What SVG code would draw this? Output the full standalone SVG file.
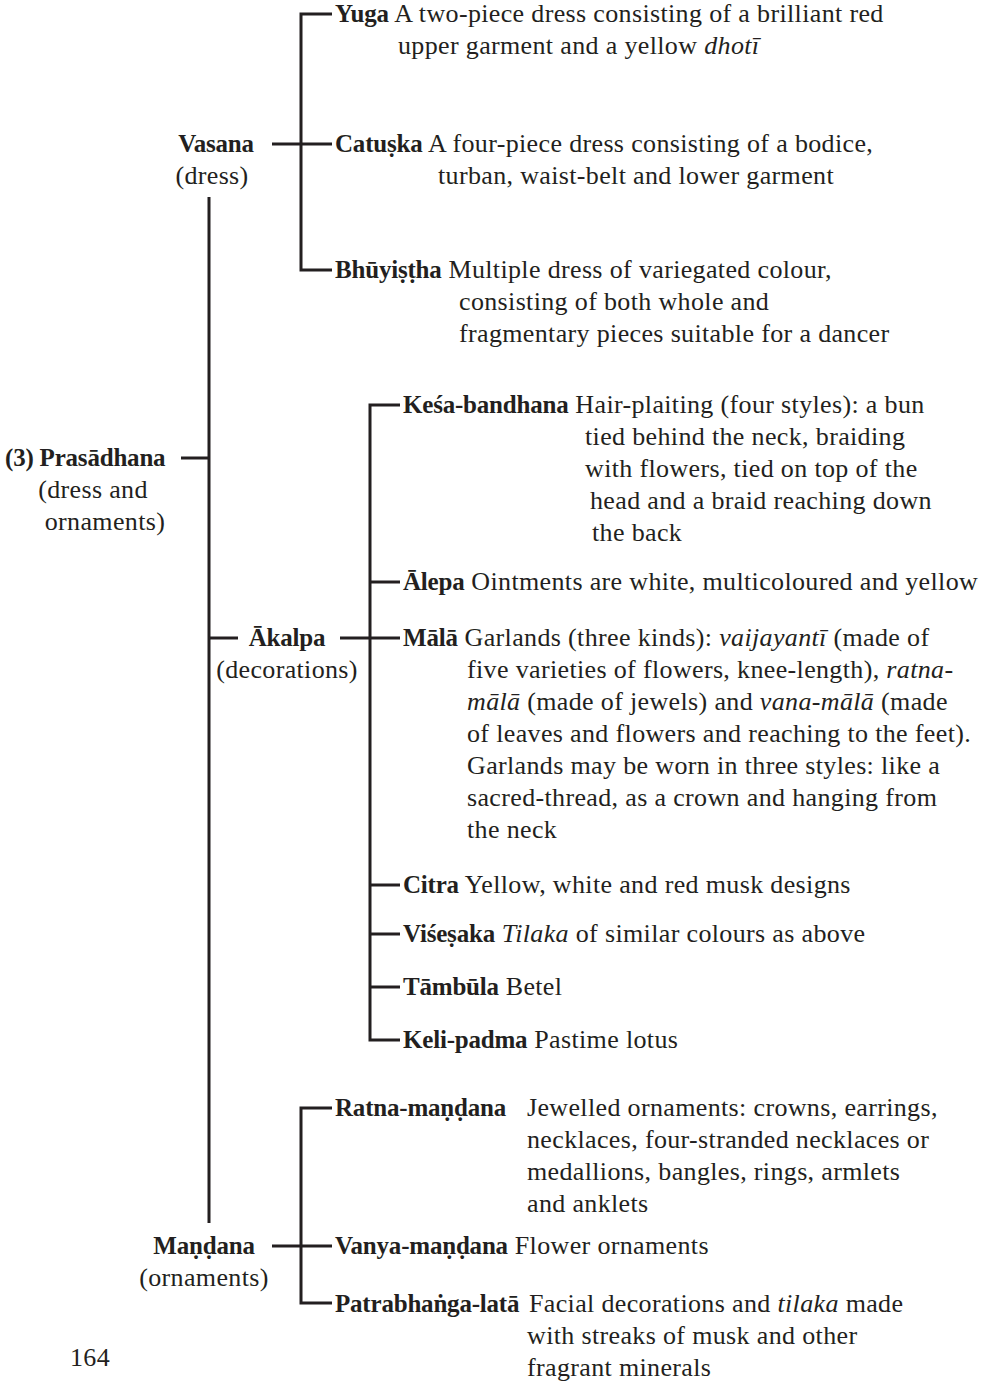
<svg xmlns="http://www.w3.org/2000/svg" width="1002" height="1382" viewBox="0 0 1002 1382">
  <style>
    text { font-family: "Liberation Serif", "DejaVu Serif", serif; font-size: 26px; letter-spacing: 0.35px; fill: #231f20; }
    .b { font-weight: bold; font-size: 25px; letter-spacing: -0.2px; }
    .i { font-style: italic; }
    .mid { text-anchor: middle; }
    .wire { stroke: #231f20; stroke-width: 3; fill: none; }
  </style>
  <rect width="1002" height="1382" fill="#ffffff"/>

  <!-- connectors -->
  <g id="connectors" class="wire">
    <!-- main trunk -->
    <path d="M209,197 V1223"/>
    <path d="M181,458 H209"/>
    <path d="M209,638 H238"/>
    <!-- Vasana bracket -->
    <path d="M272,144 H332"/>
    <path d="M332,14 H301 V270 H332"/>
    <!-- Akalpa bracket -->
    <path d="M340,638 H400"/>
    <path d="M400,405 H370 V1040 H400"/>
    <path d="M370,582 H400"/>
    <path d="M370,885 H400"/>
    <path d="M370,934 H400"/>
    <path d="M370,987 H400"/>
    <!-- Mandana bracket -->
    <path d="M272,1246 H332"/>
    <path d="M332,1108 H301 V1303 H332"/>
  </g>

  <!-- root -->
  <g id="prasadhana">
    <text x="5" y="466"><tspan class="b">(3) Prasādhana</tspan></text>
    <text x="93" y="498" class="mid">(dress and</text>
    <text x="105" y="530" class="mid">ornaments)</text>
  </g>

  <!-- level 1 -->
  <g id="vasana">
    <text x="216" y="152" class="mid b">Vasana</text>
    <text x="212" y="184" class="mid">(dress)</text>
  </g>
  <g id="akalpa">
    <text x="287" y="646" class="mid b">Ākalpa</text>
    <text x="287" y="678" class="mid">(decorations)</text>
  </g>
  <g id="mandana">
    <text x="204" y="1254" class="mid b">Maṇḍana</text>
    <text x="204" y="1286" class="mid">(ornaments)</text>
  </g>

  <!-- Vasana items -->
  <g id="yuga">
    <text x="335" y="22"><tspan class="b">Yuga</tspan> A two-piece dress consisting of a brilliant red</text>
    <text x="398" y="54">upper garment and a yellow <tspan class="i">dhotī</tspan></text>
  </g>
  <g id="catuska">
    <text x="335" y="152"><tspan class="b">Catuṣka</tspan> A four-piece dress consisting of a bodice,</text>
    <text x="438" y="184">turban, waist-belt and lower garment</text>
  </g>
  <g id="bhuyistha">
    <text x="335" y="278"><tspan class="b">Bhūyiṣṭha</tspan> Multiple dress of variegated colour,</text>
    <text x="459" y="310">consisting of both whole and</text>
    <text x="459" y="342">fragmentary pieces suitable for a dancer</text>
  </g>

  <!-- Akalpa items -->
  <g id="kesa-bandhana">
    <text x="403" y="413"><tspan class="b">Keśa-bandhana</tspan> Hair-plaiting (four styles): a bun</text>
    <text x="585" y="445">tied behind the neck, braiding</text>
    <text x="585" y="477">with flowers, tied on top of the</text>
    <text x="590" y="509">head and a braid reaching down</text>
    <text x="592" y="541">the back</text>
  </g>
  <g id="alepa">
    <text x="403" y="590"><tspan class="b">Ālepa</tspan> Ointments are white, multicoloured and yellow</text>
  </g>
  <g id="mala">
    <text x="403" y="646"><tspan class="b">Mālā</tspan> Garlands (three kinds): <tspan class="i">vaijayantī</tspan> (made of</text>
    <text x="467" y="678">five varieties of flowers, knee-length), <tspan class="i">ratna-</tspan></text>
    <text x="467" y="710"><tspan class="i">mālā</tspan> (made of jewels) and <tspan class="i">vana-mālā</tspan> (made</text>
    <text x="467" y="742">of leaves and flowers and reaching to the feet).</text>
    <text x="467" y="774">Garlands may be worn in three styles: like a</text>
    <text x="467" y="806">sacred-thread, as a crown and hanging from</text>
    <text x="467" y="838">the neck</text>
  </g>
  <g id="citra">
    <text x="403" y="893"><tspan class="b">Citra</tspan> Yellow, white and red musk designs</text>
  </g>
  <g id="visesaka">
    <text x="403" y="942"><tspan class="b">Viśeṣaka</tspan> <tspan class="i">Tilaka</tspan> of similar colours as above</text>
  </g>
  <g id="tambula">
    <text x="403" y="995"><tspan class="b">Tāmbūla</tspan> Betel</text>
  </g>
  <g id="keli-padma">
    <text x="403" y="1048"><tspan class="b">Keli-padma</tspan> Pastime lotus</text>
  </g>

  <!-- Mandana items -->
  <g id="ratna-mandana">
    <text x="335" y="1116" class="b">Ratna-maṇḍana</text>
    <text x="527" y="1116">Jewelled ornaments: crowns, earrings,</text>
    <text x="527" y="1148">necklaces, four-stranded necklaces or</text>
    <text x="527" y="1180">medallions, bangles, rings, armlets</text>
    <text x="527" y="1212">and anklets</text>
  </g>
  <g id="vanya-mandana">
    <text x="335" y="1254"><tspan class="b">Vanya-maṇḍana</tspan> Flower ornaments</text>
  </g>
  <g id="patrabhanga-lata">
    <text x="335" y="1312" class="b">Patrabhaṅga-latā</text>
    <text x="529" y="1312">Facial decorations and <tspan class="i">tilaka</tspan> made</text>
    <text x="527" y="1344">with streaks of musk and other</text>
    <text x="527" y="1376">fragrant minerals</text>
  </g>

  <!-- page number -->
  <text x="70" y="1366">164</text>
</svg>
